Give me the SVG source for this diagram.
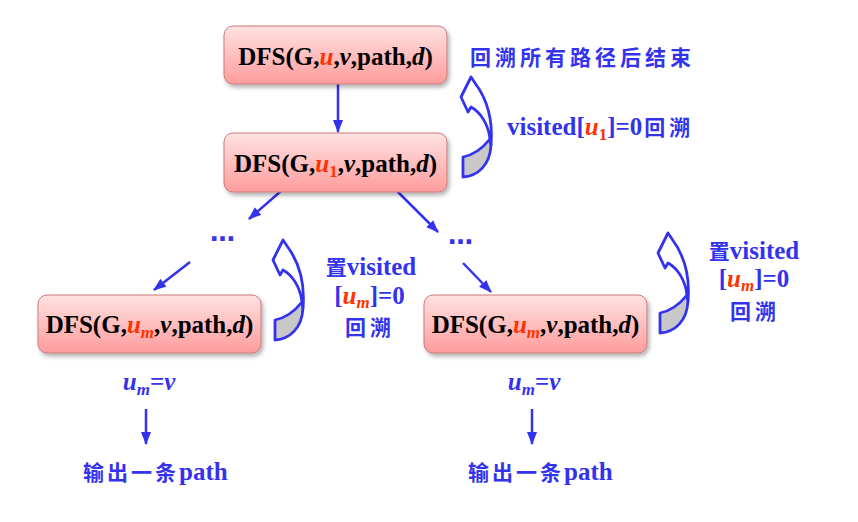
<svg xmlns="http://www.w3.org/2000/svg" xmlns:xlink="http://www.w3.org/1999/xlink" width="858" height="522" viewBox="0 0 858 522">
<style>
.box{fill:url(#pink);stroke:#c97a7a;stroke-width:1;filter:url(#sh)}
.bt{font-family:"Liberation Serif","Noto Sans CJK SC",serif;font-weight:bold;font-size:25px;fill:#000}
.lb{font-family:"Liberation Serif","Noto Sans CJK SC",serif;font-weight:bold;font-size:25px;fill:#3333ee}
.cjk{font-family:"Noto Sans CJK SC",sans-serif;font-weight:bold;font-size:21px}
.dots{font-family:"DejaVu Sans",sans-serif;font-weight:bold;font-size:25px;fill:#3333ee}
.r{fill:#ff3300}
.i{font-style:italic}
.con{stroke:#3333ee;stroke-width:2.5;fill:none;marker-end:url(#ah)}
.curlw{fill:#fff;stroke:#3333ee;stroke-width:2.8;stroke-linejoin:round}
.curlg{fill:#c8c8c8;stroke:#3333ee;stroke-width:2.8;stroke-linejoin:round}
</style>
<defs>
<linearGradient id="pink" x1="0" y1="0" x2="0" y2="1">
<stop offset="0" stop-color="#ffe2e2"/>
<stop offset="1" stop-color="#ff9c9c"/>
</linearGradient>
<filter id="sh" x="-10%" y="-20%" width="130%" height="150%">
<feDropShadow dx="2" dy="3" stdDeviation="2" flood-color="#000" flood-opacity="0.3"/>
</filter>
<marker id="ah" markerUnits="userSpaceOnUse" markerWidth="14" markerHeight="12" refX="12" refY="5" orient="auto">
<path d="M0,0 L13,5 L0,10 Z" fill="#3333ee"/>
</marker>
<g id="curl">
<path class="curlg" d="M30,62 C22,72 13,78 3,80 L3,100 C18,99 30,88 31,68 Z"/>
<path class="curlw" d="M11,0 L1,20 L8,35 L11,30 C20,35 28,46 30,62 L31,68 C33,44 27,22 15,6 Z"/>
</g>
</defs>
<rect width="858" height="522" fill="#fff"/>

<g id="connectors">
<path class="con" d="M338,84 L338,132"/>
<path class="con" d="M281,191 L249,219"/>
<path class="con" d="M397,191 L438,232"/>
<path class="con" d="M190,262 L154,290"/>
<path class="con" d="M463,263 L491,292"/>
<path class="con" d="M146,409 L146,444"/>
<path class="con" d="M532,409 L532,444"/>
</g>

<g id="backtrack-arrows">
<use xlink:href="#curl" transform="translate(460,77)"/>
<use xlink:href="#curl" transform="translate(272,240)"/>
<use xlink:href="#curl" transform="translate(657,233)"/>
</g>

<g id="node-root">
<rect class="box" x="224" y="26" width="223" height="58" rx="9"/>
<text class="bt" x="335.5" y="65" text-anchor="middle">DFS(G,<tspan class="r i">u</tspan>,<tspan class="i">v</tspan>,path,<tspan class="i">d</tspan>)</text>
</g>

<g id="node-u1">
<rect class="box" x="224" y="133" width="223" height="59" rx="9"/>
<text class="bt" x="335.5" y="172" text-anchor="middle">DFS(G,<tspan class="r i">u</tspan><tspan class="r" font-size="17" dy="5">1</tspan><tspan dy="-5">,</tspan><tspan class="i">v</tspan>,path,<tspan class="i">d</tspan>)</text>
</g>

<g id="node-um-left">
<rect class="box" x="38" y="295" width="223" height="58" rx="9"/>
<text class="bt" x="149.5" y="333" text-anchor="middle">DFS(G,<tspan class="r i">u</tspan><tspan class="r i" font-size="17" dy="5">m</tspan><tspan dy="-5">,</tspan><tspan class="i">v</tspan>,path,<tspan class="i">d</tspan>)</text>
</g>

<g id="node-um-right">
<rect class="box" x="424" y="295" width="223" height="58" rx="9"/>
<text class="bt" x="535.5" y="333" text-anchor="middle">DFS(G,<tspan class="r i">u</tspan><tspan class="r i" font-size="17" dy="5">m</tspan><tspan dy="-5">,</tspan><tspan class="i">v</tspan>,path,<tspan class="i">d</tspan>)</text>
</g>

<g id="dots">
<text class="dots" x="222.5" y="241" text-anchor="middle">…</text>
<text class="dots" x="460.5" y="244" text-anchor="middle">…</text>
</g>

<g id="labels">
<text class="lb cjk" x="470" y="65" letter-spacing="4">回溯所有路径后结束</text>
<text class="lb" x="507" y="135">visited[<tspan class="r i">u</tspan><tspan class="r" font-size="17" dy="5">1</tspan><tspan dy="-5">]=0</tspan><tspan class="cjk" dx="2" letter-spacing="4">回溯</tspan></text>

<text class="lb" x="371" y="275" text-anchor="middle"><tspan class="cjk">置</tspan>visited</text>
<text class="lb" x="369.5" y="304" text-anchor="middle">[<tspan class="r i">u</tspan><tspan class="r i" font-size="17" dy="4">m</tspan><tspan dy="-4">]=0</tspan></text>
<text class="lb cjk" x="370" y="335" text-anchor="middle" letter-spacing="4">回溯</text>

<text class="lb" x="754" y="259" text-anchor="middle"><tspan class="cjk">置</tspan>visited</text>
<text class="lb" x="754" y="287" text-anchor="middle">[<tspan class="r i">u</tspan><tspan class="r i" font-size="17" dy="4">m</tspan><tspan dy="-4">]=0</tspan></text>
<text class="lb cjk" x="755" y="319" text-anchor="middle" letter-spacing="4">回溯</text>

<text class="lb i" x="149" y="390" text-anchor="middle">u<tspan font-size="17" dy="5">m</tspan><tspan dy="-5" font-style="normal">=</tspan>v</text>
<text class="lb i" x="534" y="390" text-anchor="middle">u<tspan font-size="17" dy="5">m</tspan><tspan dy="-5" font-style="normal">=</tspan>v</text>

<text class="lb" x="83" y="480"><tspan class="cjk" letter-spacing="3">输出一条</tspan>path</text>
<text class="lb" x="468" y="480"><tspan class="cjk" letter-spacing="3">输出一条</tspan>path</text>
</g>
</svg>
